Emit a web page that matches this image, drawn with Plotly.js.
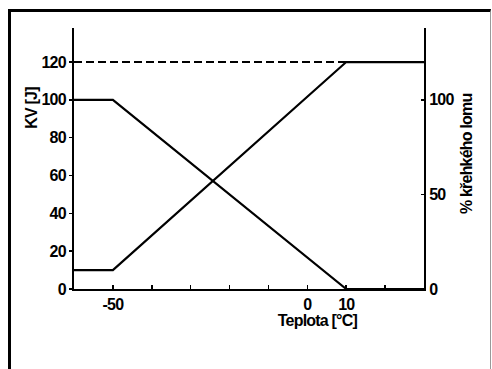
<!DOCTYPE html>
<html>
<head>
<meta charset="utf-8">
<script src="https://cdn.plot.ly/plotly-3.0.1.min.js"></script>
<style>
html,body{margin:0;padding:0;background:#fff;overflow:hidden;}
#frame{position:absolute;left:8px;top:9px;width:479px;height:400px;border-left:3px solid #000;border-top:3px solid #000;border-right:1px solid #999;}
#chart{position:absolute;left:0;top:0;width:492px;height:369px;}
#chart text{letter-spacing:-0.8px;}
</style>
</head>
<body>
<div id="frame"></div>
<div id="chart"></div>
<script>
// Temperature breakpoints [°C]
const temps = [-60, -50, 10, 30];
// Impact energy KV [J]
const kvValues = [10, 10, 120, 120];
// Upper shelf (dashed) extension
const shelfTemps = [-60, 10];
const shelfValues = [120, 120];
// Brittle fracture share [%]
const brittleValues = [100, 100, 0, 0];

const xTickVals = [-50, -40, -30, -20, -10, 0, 10, 20];
const xTickText = ['-50', '', '', '', '', '0', '10', ''];
const yTickVals = [0, 20, 40, 60, 80, 100, 120];
const y2TickVals = [0, 50, 100];

const font = {family: 'Liberation Sans, Arial, sans-serif', size: 16, color: '#000', weight: 'bold'};
const titleFont = {family: 'Liberation Sans, Arial, sans-serif', size: 16, color: '#000', weight: 'bold'};

const traces = [
  {x: shelfTemps, y: shelfValues, mode: 'lines', line: {color: '#000', width: 2, dash: '8px,4px'}, yaxis: 'y', hoverinfo: 'skip'},
  {x: temps, y: kvValues, mode: 'lines', line: {color: '#000', width: 2.2}, yaxis: 'y'},
  {x: temps, y: brittleValues, mode: 'lines', line: {color: '#000', width: 2.2}, yaxis: 'y2'}
];

const layout = {
  width: 492, height: 369,
  margin: {l: 74, r: 68, t: 28, b: 80},
  paper_bgcolor: 'rgba(0,0,0,0)',
  plot_bgcolor: 'rgba(0,0,0,0)',
  showlegend: false,
  font: font,
  xaxis: {
    range: [-60, 30], tickvals: xTickVals, ticktext: xTickText,
    ticks: 'inside', ticklen: 4, tickwidth: 1.5, tickcolor: '#000',
    showline: true, linecolor: '#000', linewidth: 2, showgrid: false, zeroline: false,
    tickfont: font
  },
  yaxis: {
    range: [0, 138], tickvals: yTickVals,
    ticks: 'outside', ticklen: 3, tickwidth: 1.5, tickcolor: '#000',
    showline: true, linecolor: '#000', linewidth: 2, showgrid: false, zeroline: false,
    tickfont: font
  },
  yaxis2: {
    range: [0, 138], tickvals: y2TickVals, overlaying: 'y', side: 'right',
    ticks: 'inside', ticklen: 3, tickwidth: 1.5, tickcolor: '#000',
    showline: true, linecolor: '#000', linewidth: 2, showgrid: false, zeroline: false,
    tickfont: font
  },
  annotations: [
    {text: 'KV [J]', xref: 'paper', yref: 'paper', x: -0.123, y: 0.693, textangle: -90, showarrow: false, xanchor: 'center', yanchor: 'middle', font: titleFont},
    {text: '% křehkého lomu', xref: 'paper', yref: 'paper', x: 1.12, y: 0.517, textangle: -90, showarrow: false, xanchor: 'center', yanchor: 'middle', font: titleFont},
    {text: 'Teplota [°C]', xref: 'paper', yref: 'paper', x: 0.697, y: -0.119, showarrow: false, xanchor: 'center', yanchor: 'middle', font: titleFont}
  ]
};

Plotly.newPlot('chart', traces, layout, {staticPlot: true, displayModeBar: false});
</script>
</body>
</html>
